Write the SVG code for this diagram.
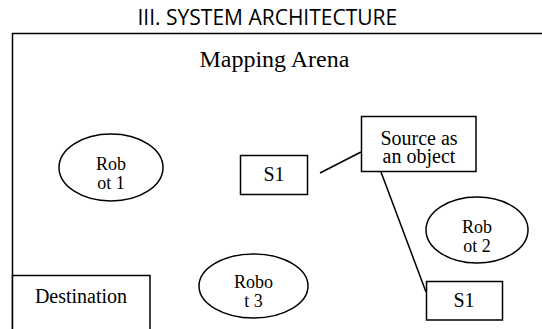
<svg xmlns="http://www.w3.org/2000/svg" width="542" height="329" viewBox="0 0 542 329">
<rect x="0" y="0" width="542" height="329" fill="#fff"/>
<text x="137.5" y="25" font-family="Open Sans, sans-serif" font-size="21" fill="#000">III. SYSTEM ARCHITECTURE</text>
<g id="arena">
<rect fill="#fff" stroke="#000" stroke-width="1.5" x="12.5" y="33.5" width="600" height="400"/>
<text x="199.4" y="67" font-family="Times New Roman, Liberation Serif, serif" font-size="24" fill="#000">Mapping Arena</text>
</g>
<g id="connectors" stroke="#000" stroke-width="1.5" fill="none">
<line x1="320" y1="173" x2="361" y2="152"/>
<line x1="381" y1="172" x2="426" y2="292"/>
</g>
<g id="robot1">
<ellipse fill="#fff" stroke="#000" stroke-width="1.5" cx="111" cy="167.5" rx="52" ry="33.5"/>
<text x="96" y="170" font-family="Times New Roman, Liberation Serif, serif" font-size="18">Rob</text>
<text x="97.25" y="188.5" font-family="Times New Roman, Liberation Serif, serif" font-size="18">ot 1</text>
</g>
<g id="s1a">
<rect fill="#fff" stroke="#000" stroke-width="1.5" x="240.5" y="155.5" width="67" height="39"/>
<text x="263.4" y="181" font-family="Times New Roman, Liberation Serif, serif" font-size="20">S1</text>
</g>
<g id="source">
<rect fill="#fff" stroke="#000" stroke-width="1.5" x="361.5" y="116.5" width="114.5" height="55"/>
<text x="380.4" y="145" font-family="Times New Roman, Liberation Serif, serif" font-size="20">Source as</text>
<text x="382.6" y="163" font-family="Times New Roman, Liberation Serif, serif" font-size="20">an object</text>
</g>
<g id="robot2">
<ellipse fill="#fff" stroke="#000" stroke-width="1.5" cx="477" cy="230" rx="51" ry="33"/>
<text x="462" y="233" font-family="Times New Roman, Liberation Serif, serif" font-size="18">Rob</text>
<text x="463.25" y="251.5" font-family="Times New Roman, Liberation Serif, serif" font-size="18">ot 2</text>
</g>
<g id="robot3">
<ellipse fill="#fff" stroke="#000" stroke-width="1.5" cx="253.5" cy="286" rx="54.5" ry="32"/>
<text x="234" y="288" font-family="Times New Roman, Liberation Serif, serif" font-size="18">Robo</text>
<text x="244.25" y="306.5" font-family="Times New Roman, Liberation Serif, serif" font-size="18">t 3</text>
</g>
<g id="s1b">
<rect fill="#fff" stroke="#000" stroke-width="1.5" x="426.5" y="281.5" width="76" height="38.5"/>
<text x="453.4" y="307" font-family="Times New Roman, Liberation Serif, serif" font-size="20">S1</text>
</g>
<g id="destination">
<rect fill="#fff" stroke="#000" stroke-width="1.5" x="12.5" y="275.5" width="137.5" height="80"/>
<text x="34.9" y="303" font-family="Times New Roman, Liberation Serif, serif" font-size="20">Destination</text>
</g>
</svg>
